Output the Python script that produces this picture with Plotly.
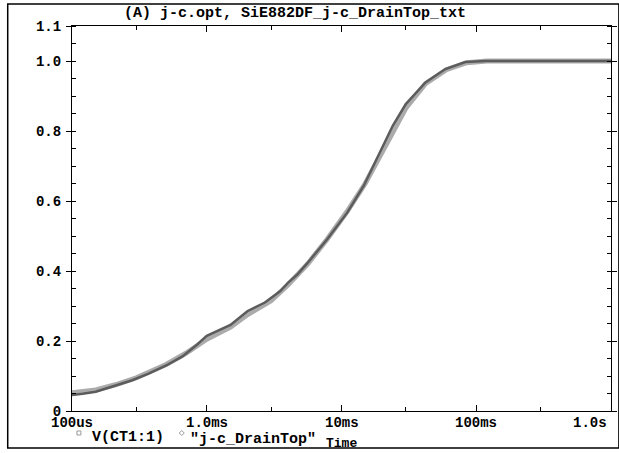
import plotly.graph_objects as go
import math

# ---- data ----
t_sim = [1e-4, 1.2e-4, 1.5e-4, 2.1e-4, 2.8e-4, 3.7e-4, 5e-4, 6.6e-4, 8.5e-4, 1.0e-3,
         1.5e-3, 2.0e-3, 2.7e-3, 3.5e-3, 4.0e-3, 4.7e-3, 5.6e-3, 7.8e-3, 1.1e-2, 1.46e-2,
         1.93e-2, 2.4e-2, 3.0e-2, 4.2e-2, 5.9e-2, 8.3e-2, 0.117, 0.2, 0.5, 1.0]
v_sim = [0.046, 0.049, 0.055, 0.072, 0.088, 0.107, 0.130, 0.156, 0.190, 0.215,
         0.246, 0.285, 0.310, 0.342, 0.366, 0.390, 0.423, 0.490, 0.566, 0.643,
         0.738, 0.815, 0.877, 0.939, 0.977, 0.997, 1.000, 1.000, 1.000, 1.000]

t_meas = [1e-4, 1.5e-4, 2.1e-4, 3e-4, 5e-4, 7e-4, 1e-3, 1.5e-3, 2e-3, 3e-3,
          4e-3, 5.6e-3, 7.8e-3, 1.1e-2, 1.5e-2, 2e-2, 2.5e-2, 3e-2, 4.2e-2, 6e-2,
          8.5e-2, 0.12, 0.3, 1.0]
v_meas = [0.052, 0.060, 0.075, 0.095, 0.133, 0.165, 0.205, 0.240, 0.275, 0.315,
          0.360, 0.420, 0.490, 0.570, 0.650, 0.740, 0.810, 0.865, 0.935, 0.975,
          0.995, 1.000, 1.000, 1.000]

series_names = ["V(CT1:1)", '"j-c_DrainTop"']
x_tickvals = [1e-4, 1e-3, 1e-2, 1e-1, 1.0]
x_ticktext = ["100us", "1.0ms", "10ms", "100ms", "1.0s"]
x_minor = [3e-4, 3e-3, 3e-2, 3e-1]
y_tickvals = [0, 0.2, 0.4, 0.6, 0.8, 1.0, 1.1]
y_ticktext = ["0", "0.2", "0.4", "0.6", "0.8", "1.0", "1.1"]
title_text = "(A) j-c.opt, SiE882DF_j-c_DrainTop_txt"
x_title = "Time"

# ---- layout geometry (pixels) ----
W, H = 619, 453
L, R, T, B = 72, 617, 26, 411
pw, ph = R - L, B - T

def px(x):
    return (x - L) / pw

def py(y):
    return (B - y) / ph

FONT = dict(family="Liberation Mono, DejaVu Sans Mono, monospace", size=15, color="black", weight="bold")
TICKFONT = dict(FONT, size=14)

fig = go.Figure()
fig.add_trace(go.Scatter(x=t_meas, y=v_meas, mode="lines", name=series_names[1],
                         line=dict(color="#ababab", width=5), showlegend=False))
fig.add_trace(go.Scatter(x=t_sim, y=v_sim, mode="lines", name=series_names[0],
                         line=dict(color="#5c5c5c", width=2.5), showlegend=False))

annotations = []
for v, txt in zip(x_tickvals, x_ticktext):
    last = v == x_tickvals[-1]
    annotations.append(dict(x=math.log10(v), y=py(423), xref="x", yref="paper", text=txt,
                            showarrow=False, font=TICKFONT, xanchor="right" if last else "center",
                            xshift=-2 if last else 0, yanchor="middle"))
annotations += [
    dict(x=px(297), y=py(14), xref="paper", yref="paper", text=title_text, showarrow=False,
         font=FONT, xanchor="center", yanchor="middle"),
    dict(x=px(90), y=py(438), xref="paper", yref="paper", text=series_names[0], showarrow=False,
         font=FONT, xanchor="left", yanchor="middle"),
    dict(x=px(189), y=py(439), xref="paper", yref="paper", text=series_names[1], showarrow=False,
         font=FONT, xanchor="left", yanchor="middle"),
    dict(x=px(345), y=py(444), xref="paper", yref="paper", text=x_title, showarrow=False,
         font=dict(FONT, size=13), xanchor="center", yanchor="middle"),
]

shapes = [
    # outer frame
    dict(type="rect", xref="paper", yref="paper", x0=px(7), x1=px(625), y0=py(448), y1=py(4),
         line=dict(color="black", width=1.5), layer="above"),
    # legend square
    dict(type="rect", xref="paper", yref="paper", x0=px(77), x1=px(81), y0=py(435), y1=py(431),
         line=dict(color="#999999", width=1)),
    # legend diamond
    dict(type="path", xref="paper", yref="paper",
         path=f"M {px(183)} {py(430.5)} L {px(185.5)} {py(433)} L {px(183)} {py(435.5)} L {px(180.5)} {py(433)} Z",
         line=dict(color="#999999", width=1)),
]

fig.update_layout(
    width=W, height=H,
    margin=dict(l=L, r=W - R, t=T, b=H - B, pad=0),
    paper_bgcolor="white", plot_bgcolor="white",
    showlegend=False,
    annotations=annotations, shapes=shapes,
    xaxis=dict(type="log", range=[-4, 0], tickmode="array", tickvals=x_tickvals,
               showticklabels=False, ticks="inside", ticklen=6, tickcolor="black",
               showline=True, linecolor="black", linewidth=1, mirror="ticks",
               showgrid=False, zeroline=False,
               minor=dict(tickmode="array", tickvals=x_minor, ticks="inside", ticklen=4,
                          tickcolor="black", showgrid=False)),
    yaxis=dict(range=[0, 1.1], tickmode="array", tickvals=y_tickvals, ticktext=y_ticktext,
               tickfont=TICKFONT, ticks="outside", ticklen=5, tickcolor="black",
               ticklabelstandoff=2,
               showline=True, linecolor="black", linewidth=1, mirror="ticks",
               showgrid=False, zeroline=False,
               minor=dict(tickmode="linear", tick0=0, dtick=0.05, ticks="inside", ticklen=4,
                          tickcolor="black", showgrid=False)),
)

fig.write_html("out.html")
